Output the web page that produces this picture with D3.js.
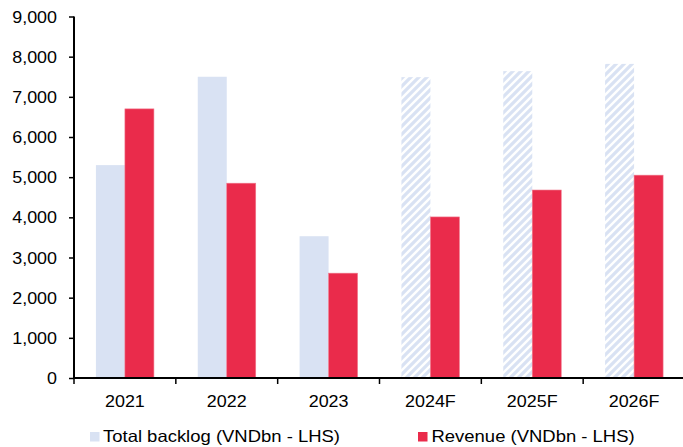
<!DOCTYPE html>
<html>
<head>
<meta charset="utf-8">
<script src="https://cdn.jsdelivr.net/npm/d3@7"></script>
<style>
  html, body { margin: 0; padding: 0; background: #fff; }
  svg { display: block; }
  text { font-family: "Liberation Sans", Arial, sans-serif; fill: #000; }
</style>
</head>
<body>
<svg id="chart" width="683" height="447"></svg>
<script>
// Years on the x axis; "F" marks forecast years
const years = ["2021", "2022", "2023", "2024F", "2025F", "2026F"];
const forecast = [false, false, false, true, true, true];
// Total backlog, VNDbn
const backlog = [5300, 7500, 3530, 7490, 7640, 7820];
// Revenue, VNDbn
const revenue = [6700, 4850, 2610, 4010, 4680, 5050];
// Value axis ticks
const yTicks = [0, 1000, 2000, 3000, 4000, 5000, 6000, 7000, 8000, 9000];
const seriesNames = ["Total backlog (VNDbn - LHS)", "Revenue (VNDbn - LHS)"];

const blue = "#d9e2f3";
const red = "#ea2b4b";
const sx = 1.12; // horizontal widening of the labels

const svg = d3.select("#chart");

// diagonal hatch for forecast backlog
const defs = svg.append("defs");
const pat = defs.append("pattern")
  .attr("id", "hatch")
  .attr("patternUnits", "userSpaceOnUse")
  .attr("width", 8).attr("height", 8);
pat.append("rect").attr("width", 8).attr("height", 8).attr("fill", "#fff");
pat.append("path")
  .attr("d", "M-2,2 L2,-2 M0,8 L8,0 M6,10 L10,6")
  .attr("stroke", blue).attr("stroke-width", 3.2);

const plotLeft = 74, plotRight = 685, plotTop = 16.5, plotBottom = 378;

const x = d3.scaleBand().domain(years).range([plotLeft, plotRight]).padding(0);
const y = d3.scaleLinear().domain([0, 9000]).range([plotBottom, plotTop]);
const barW = 29;

const g = svg.append("g");

// backlog bars
g.selectAll("rect.backlog")
  .data(years)
  .join("rect")
  .attr("class", "backlog")
  .attr("x", d => x(d) + x.bandwidth() / 2 - barW)
  .attr("width", barW)
  .attr("y", (d, i) => y(backlog[i]))
  .attr("height", (d, i) => y(0) - y(backlog[i]))
  .attr("fill", (d, i) => forecast[i] ? "url(#hatch)" : blue);

// revenue bars
g.selectAll("rect.revenue")
  .data(years)
  .join("rect")
  .attr("class", "revenue")
  .attr("x", d => x(d) + x.bandwidth() / 2)
  .attr("width", barW)
  .attr("y", (d, i) => y(revenue[i]))
  .attr("height", (d, i) => y(0) - y(revenue[i]))
  .attr("fill", red)
  .attr("stroke", "#f07a8e")
  .attr("stroke-width", 0.6);

// y axis
const yAxis = g.append("g")
  .attr("transform", `translate(${plotLeft},0)`)
  .call(d3.axisLeft(y).tickValues(yTicks).tickSize(5).tickSizeOuter(0)
    .tickFormat(d3.format(",")));
yAxis.select(".domain").attr("stroke", "#000").attr("stroke-width", 2)
  .attr("d", `M0,${plotTop}V${plotBottom}`);
yAxis.selectAll(".tick line").attr("stroke", "#000").attr("stroke-width", 1.5);
yAxis.selectAll(".tick text")
  .attr("font-size", 16)
  .attr("x", null).attr("dy", null)
  .attr("text-anchor", "end")
  .attr("transform", `translate(-17,5.6) scale(${sx},1)`);

// x axis: ticks at category boundaries, labels at centres
const xg = g.append("g").attr("transform", `translate(0,${plotBottom})`);
xg.append("line")
  .attr("x1", plotLeft).attr("x2", plotRight)
  .attr("stroke", "#000").attr("stroke-width", 2);
xg.selectAll("line.tick")
  .data(years)
  .join("line")
  .attr("class", "tick")
  .attr("x1", d => x(d)).attr("x2", d => x(d))
  .attr("y1", 0).attr("y2", 6)
  .attr("stroke", "#000").attr("stroke-width", 1.5);
xg.selectAll("text")
  .data(years)
  .join("text")
  .attr("font-size", 16)
  .attr("text-anchor", "middle")
  .attr("transform", d => `translate(${x(d) + x.bandwidth() / 2},29) scale(${sx},1)`)
  .text(d => d);

// legend
const legend = svg.append("g");
const legendItems = [
  { name: seriesNames[0], color: blue, sq: 90, tx: 103 },
  { name: seriesNames[1], color: red, sq: 418, tx: 431.5 }
];
legendItems.forEach(it => {
  legend.append("rect")
    .attr("x", it.sq).attr("y", 432)
    .attr("width", 9.5).attr("height", 9.5)
    .attr("fill", it.color);
  legend.append("text")
    .attr("font-size", 16.5)
    .attr("transform", `translate(${it.tx},442) scale(${sx},1)`)
    .text(it.name);
});
</script>
</body>
</html>
